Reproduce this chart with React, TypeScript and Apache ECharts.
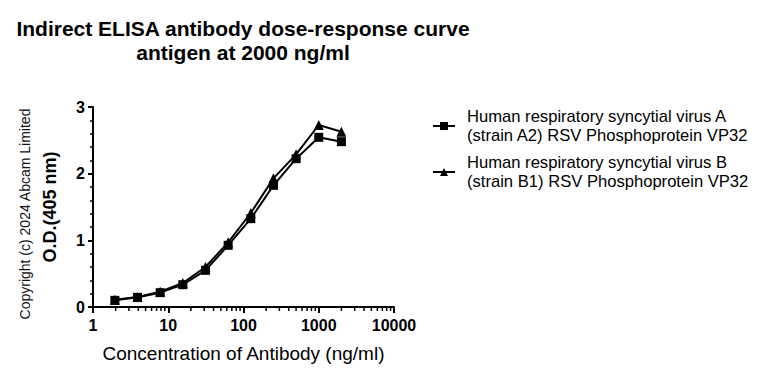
import React, { useEffect, useRef } from "react";
import * as echarts from "echarts";

const concentrations = [1.953125, 3.90625, 7.8125, 15.625, 31.25, 62.5, 125, 250, 500, 1000, 2000];
const seriesAValues = [0.1, 0.145, 0.215, 0.335, 0.55, 0.925, 1.325, 1.825, 2.225, 2.545, 2.48];
const seriesBValues = [0.11, 0.15, 0.23, 0.36, 0.6, 0.97, 1.41, 1.93, 2.29, 2.73, 2.63];
const seriesNames = [
  "Human respiratory syncytial virus A (strain A2) RSV Phosphoprotein VP32",
  "Human respiratory syncytial virus B (strain B1) RSV Phosphoprotein VP32",
];
const legendLines = [
  ["Human respiratory syncytial virus A", "(strain A2) RSV Phosphoprotein VP32"],
  ["Human respiratory syncytial virus B", "(strain B1) RSV Phosphoprotein VP32"],
];
const xTickLabels = ["1", "10", "100", "1000", "10000"];
const yTickLabels = ["0", "1", "2", "3"];
const decades = [1, 10, 100, 1000];
const minorMultipliers = [2, 3, 4, 5, 6, 7, 8, 9];

const FONT = "'Liberation Sans', Arial, Helvetica, sans-serif";

export default function App() {
  const ref = useRef<HTMLDivElement>(null);
  useEffect(() => {
    if (!ref.current) return;
    const chart = echarts.init(ref.current, null, { renderer: "svg" });
    const xMinorTicks: number[] = [];
    decades.forEach((d) => minorMultipliers.forEach((m) => xMinorTicks.push(d * m)));

    const lineStyle = { color: "#000", width: 2 };
    chart.setOption({
      animation: false,
      backgroundColor: "#fff",
      textStyle: { fontFamily: FONT },
      grid: { left: 93, top: 107, width: 301, height: 200, containLabel: false },
      xAxis: {
        type: "log",
        logBase: 10,
        min: 1,
        max: 10000,
        name: "Concentration of Antibody (ng/ml)",
        nameLocation: "middle",
        nameGap: 37,
        nameTextStyle: { fontSize: 19, color: "#000", fontFamily: FONT },
        axisLine: { lineStyle: { color: "#000", width: 2 } },
        axisTick: { show: true, inside: false, length: 6, lineStyle: { color: "#000", width: 2 } },
        axisLabel: {
          fontSize: 16,
          fontWeight: "bold",
          color: "#000",
          fontFamily: FONT,
          margin: 10,
          formatter: (v: number) => {
            const i = Math.round(Math.log10(v));
            return xTickLabels[i] ?? String(Math.round(v));
          },
        },
        splitLine: { show: false },
      },
      yAxis: {
        type: "value",
        min: 0,
        max: 3,
        interval: 1,
        name: "O.D.(405 nm)",
        nameLocation: "middle",
        nameGap: 34,
        nameTextStyle: { fontSize: 18, fontWeight: "bold", color: "#000", fontFamily: FONT },
        axisLine: { show: true, lineStyle: { color: "#000", width: 2 } },
        axisTick: { show: true, inside: false, length: 5, lineStyle: { color: "#000", width: 2 } },
        minorTick: { show: true, splitNumber: 5, length: 3, lineStyle: { color: "#000", width: 1.5 } },
        axisLabel: {
          fontSize: 16,
          fontWeight: "bold",
          color: "#000",
          fontFamily: FONT,
          margin: 8,
          formatter: (v: number) => yTickLabels[Math.round(v)] ?? String(v),
        },
        splitLine: { show: false },
      },
      graphic: [
        {
          type: "text",
          x: 243,
          y: 16,
          style: {
            x: 0,
            y: 0,
            text: "Indirect ELISA antibody dose-response curve\nantigen at 2000 ng/ml",
            font: `bold 21px ${FONT}`,
            fill: "#000",
            textAlign: "center",
            textVerticalAlign: "top",
            lineHeight: 24,
          },
        },
        {
          type: "text",
          x: 25,
          y: 214,
          rotation: Math.PI / 2,
          style: {
            x: 0,
            y: 0,
            text: "Copyright (c) 2024 Abcam Limited",
            font: `14px ${FONT}`,
            fill: "#111",
            textAlign: "center",
            textVerticalAlign: "middle",
          },
        },
      ],
      legend: {
        show: true,
        orient: "vertical",
        left: 427,
        top: 102,
        itemWidth: 22,
        itemHeight: 10,
        itemGap: 8,
        data: seriesNames,
        formatter: (name: string) => {
          const i = seriesNames.indexOf(name);
          return i >= 0 ? legendLines[i].join("\n") : name;
        },
        textStyle: { fontSize: 16.6, lineHeight: 19, color: "#000", fontFamily: FONT, padding: [0, 0, 0, 7] },
      },
      series: [
        {
          name: seriesNames[0],
          type: "line",
          data: concentrations.map((c, i) => [c, seriesAValues[i]]),
          symbol: "rect",
          symbolSize: 9,
          itemStyle: { color: "#000" },
          lineStyle,
          z: 3,
        },
        {
          name: seriesNames[1],
          type: "line",
          data: concentrations.map((c, i) => [c, seriesBValues[i]]),
          symbol: "triangle",
          symbolSize: 10,
          itemStyle: { color: "#000" },
          lineStyle,
          z: 3,
        },
        {
          name: "minorTicks",
          type: "custom",
          silent: true,
          clip: false,
          data: xMinorTicks.map((v) => [v, 0]),
          renderItem: (_params: any, api: any) => {
            const p = api.coord([api.value(0), 0]);
            return {
              type: "line",
              shape: { x1: p[0], y1: p[1], x2: p[0], y2: p[1] + 4 },
              style: { stroke: "#000", lineWidth: 1.5 },
            };
          },
          z: 1,
        },
      ],
    });
    return () => chart.dispose();
  }, []);
  return (
    <div
      ref={ref}
      style={{ position: "fixed", left: 0, top: 0, width: 760, height: 379, background: "#fff" }}
    />
  );
}
